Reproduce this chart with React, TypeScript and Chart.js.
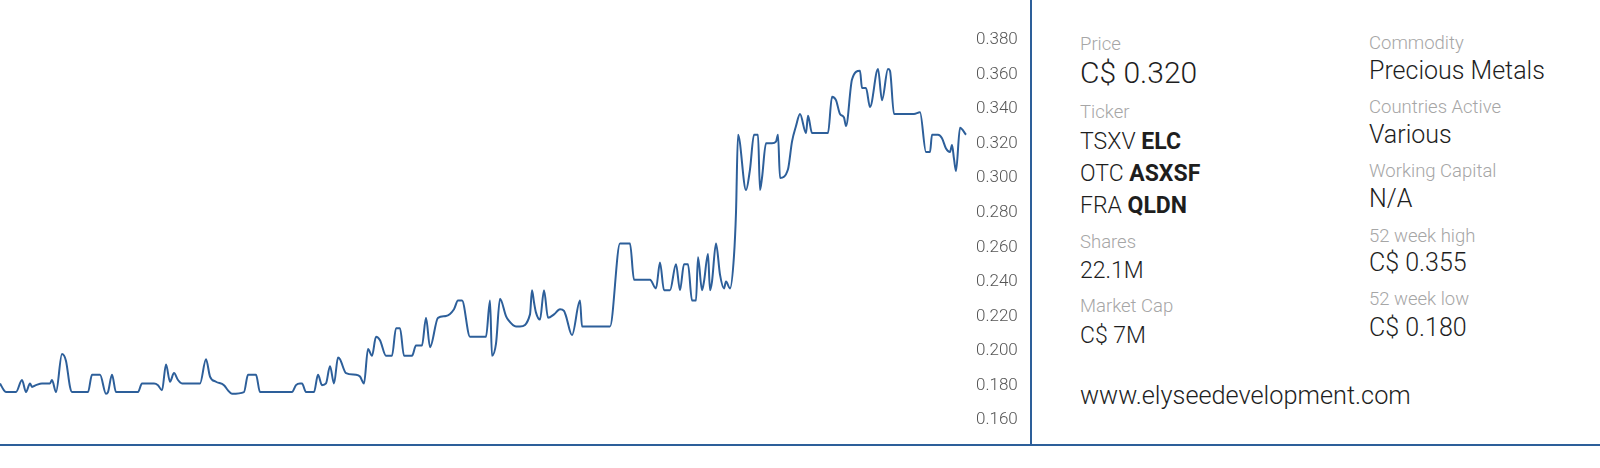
import React, { useEffect, useRef } from "react";
import { Chart, registerables } from "chart.js";

Chart.register(...registerables);

// trading-day index (irregular spacing)
const days = [0,1,1.5,4,5.5,6.5,7.5,8,9,10.5,12.5,13,14,15.5,16.5,17.5,18,22,23,25,26.5,27,28,29,34.5,35.5,38.5,39.5,40.5,41.5,42.5,43.5,44.5,45.5,50,51.5,52.5,54,56,57,58,61,62,64,65,73,74,75,75.5,76.5,78.5,79.5,80.5,81.5,82.5,83.5,84.5,85,86.5,89,90,91,92,93,94,95,96.5,98,99,100,101,103,104,105.5,106.5,107.5,109.5,111.5,113.5,114.5,115.5,117.5,121.5,122.5,123,124,125,126.5,127,129,130,132.5,133,133.5,134,135,136,137,138.5,140,141,141.5,143,145,145.5,152.5,155,157.5,158.5,162.5,164,165,166,167.5,169,170,171,172,173,174,174.5,175.5,176,177,177.5,178,179,180,181,181.5,182.5,183.5,184,184.5,186.5,187.5,188.5,189.5,190,190.5,191.5,193,194,194.5,195,197,198,199,200,201.5,202,203,207,208,209,210,211,211.5,213,215,215.5,216.5,217.5,219.5,220.5,222,222.5,223.5,228.5,230,231.5,232.5,233,234.5,235.5,236.5,237.5,238,238.5,239,240,241.5];

const prices = [0.180,0.176,0.175,0.175,0.182,0.175,0.180,0.178,0.179,0.180,0.180,0.182,0.175,0.197,0.193,0.178,0.175,0.175,0.185,0.185,0.174,0.175,0.185,0.175,0.175,0.180,0.180,0.179,0.176,0.191,0.181,0.186,0.182,0.180,0.180,0.194,0.184,0.181,0.179,0.176,0.174,0.175,0.185,0.185,0.175,0.175,0.179,0.180,0.180,0.175,0.175,0.185,0.179,0.180,0.190,0.180,0.195,0.194,0.186,0.185,0.184,0.180,0.200,0.196,0.207,0.205,0.196,0.196,0.212,0.212,0.196,0.196,0.202,0.202,0.218,0.201,0.218,0.219,0.223,0.228,0.228,0.207,0.207,0.228,0.196,0.203,0.229,0.219,0.217,0.213,0.213,0.220,0.234,0.227,0.221,0.217,0.234,0.218,0.220,0.223,0.222,0.219,0.208,0.228,0.213,0.213,0.261,0.261,0.240,0.240,0.235,0.250,0.234,0.234,0.249,0.234,0.249,0.249,0.228,0.228,0.253,0.234,0.239,0.255,0.234,0.239,0.261,0.243,0.235,0.239,0.235,0.254,0.279,0.324,0.292,0.304,0.324,0.324,0.292,0.299,0.319,0.319,0.320,0.324,0.299,0.304,0.320,0.329,0.336,0.325,0.335,0.325,0.325,0.346,0.344,0.336,0.334,0.329,0.356,0.361,0.351,0.351,0.340,0.362,0.344,0.362,0.361,0.336,0.336,0.337,0.314,0.314,0.324,0.324,0.322,0.316,0.314,0.318,0.310,0.303,0.328,0.324];

const yMin = 0.16;
const yMax = 0.38;
const yStep = 0.02;
const dayMax = 241.75;

const leftLabels = ["Price", "Ticker", "Shares", "Market Cap"];
const rightLabels = ["Commodity", "Countries Active", "Working Capital", "52 week high", "52 week low"];
const rightValues = ["Precious Metals", "Various", "N/A", "C$ 0.355", "C$ 0.180"];
const priceValue = "C$ 0.320";
const tickers = [["TSXV", "ELC"], ["OTC", "ASXSF"], ["FRA", "QLDN"]];
const sharesValue = "22.1M";
const capValue = "C$ 7M";
const website = "www.elyseedevelopment.com";

const LINE = "#2d5f9a";
const LABEL = "#a6a6a6";
const VALUE = "#1e1e1e";

function Txt(props: { x: number; base: number; size: number; color: string; weight?: number; children: any }) {
  const { x, base, size, color, weight, children } = props;
  return (
    <div
      style={{
        position: "absolute",
        left: x,
        top: base + 0.8 - 0.842 * size,
        fontSize: size,
        lineHeight: `${size}px`,
        color,
        fontWeight: weight ?? 300,
        whiteSpace: "nowrap",
        fontFamily: "Roboto, sans-serif",
      }}
    >
      {children}
    </div>
  );
}

export default function App() {
  const ref = useRef<HTMLCanvasElement | null>(null);

  useEffect(() => {
    if (!ref.current) return;
    const data = days.map((d, i) => ({ x: d, y: prices[i] }));
    const chart = new Chart(ref.current, {
      type: "line",
      data: {
        datasets: [
          {
            data,
            borderColor: LINE,
            borderWidth: 2,
            pointRadius: 0,
            fill: false,
            cubicInterpolationMode: "monotone",
          },
        ],
      },
      options: {
        animation: false,
        responsive: false,
        maintainAspectRatio: false,
        layout: { padding: { top: 38, bottom: 27, left: 0, right: 0 } },
        plugins: { legend: { display: false }, tooltip: { enabled: false } },
        scales: {
          x: { type: "linear", min: 0, max: dayMax, display: false },
          y: {
            position: "right",
            min: yMin,
            max: yMax,
            grid: { display: false, drawTicks: false },
            border: { display: false },
            ticks: {
              stepSize: yStep,
              padding: 9,
              labelOffset: 2,
              color: "#555",
              font: { family: "Roboto", size: 17, weight: 300 },
              callback: (v: any) => Number(v).toFixed(3),
            },
            afterFit: (s: any) => {
              s.width = 63;
            },
          },
        },
      },
    });
    return () => chart.destroy();
  }, []);

  const lx = 1080;
  const rx = 1369;
  const rLabelBase = [48.3, 112.7, 176.7, 241.7, 305];
  const rValueBase = [78.3, 142.7, 206.7, 270.7, 335];
  const LS = 18.5;

  return (
    <div style={{ position: "fixed", left: 0, top: 0, width: 1600, height: 468, background: "#fff", overflow: "hidden" }}>
      <canvas ref={ref} width={1030} height={445} style={{ position: "absolute", left: 0, top: 0, width: 1030, height: 445 }} />
      <div style={{ position: "absolute", left: 1030, top: 0, width: 2, height: 446, background: LINE }} />
      <div style={{ position: "absolute", left: 0, top: 444, width: 1600, height: 2, background: LINE }} />

      <Txt x={lx} base={50} size={LS} color={LABEL}>{leftLabels[0]}</Txt>
      <Txt x={lx} base={82.7} size={30} color={VALUE}>{priceValue}</Txt>
      <Txt x={lx} base={118} size={LS} color={LABEL}>{leftLabels[1]}</Txt>
      {tickers.map((t, i) => (
        <Txt key={t[0]} x={lx} base={149 + i * 31.85} size={23} color={VALUE}>
          {t[0]} <span style={{ fontWeight: 700 }}>{t[1]}</span>
        </Txt>
      ))}
      <Txt x={lx} base={247.3} size={LS} color={LABEL}>{leftLabels[2]}</Txt>
      <Txt x={lx} base={278} size={23} color={VALUE}>{sharesValue}</Txt>
      <Txt x={lx} base={311.7} size={LS} color={LABEL}>{leftLabels[3]}</Txt>
      <Txt x={lx} base={342.7} size={23} color={VALUE}>{capValue}</Txt>
      <Txt x={lx} base={404} size={25.3} color={VALUE}>{website}</Txt>

      {rightLabels.map((l, i) => (
        <React.Fragment key={l}>
          <Txt x={rx} base={rLabelBase[i]} size={LS} color={LABEL}>{l}</Txt>
          <Txt x={rx} base={rValueBase[i]} size={25} color={VALUE}>{rightValues[i]}</Txt>
        </React.Fragment>
      ))}
    </div>
  );
}
